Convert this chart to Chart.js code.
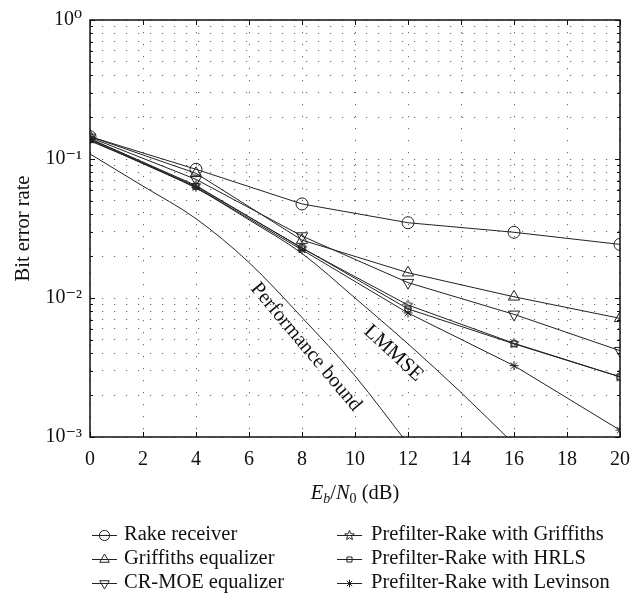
<!DOCTYPE html>
<html><head><meta charset="utf-8">
<script src="https://cdn.jsdelivr.net/npm/chart.js@4.4.1/dist/chart.umd.min.js"></script>
<style>html,body{margin:0;padding:0;background:#fff}#wrap{width:643px;height:594px;position:relative}</style>
</head><body><div id="wrap"><canvas id="c" width="643" height="594"></canvas></div>
<script>
// ---- data ----
const snrMarked = [0, 4, 8, 12, 16, 20];
const rakeReceiver      = [0.145, 0.0843, 0.0475, 0.0348, 0.0297, 0.0243];
const griffithsEqualizer = [0.145, 0.0789, 0.0261, 0.0152, 0.0102, 0.00714];
const crmoeEqualizer    = [0.143, 0.0714, 0.0279, 0.0129, 0.00763, 0.00418];
const prefilterGriffiths = [0.140, 0.0645, 0.0228, 0.0089, 0.00472, 0.00271];
const prefilterHRLS     = [0.139, 0.0635, 0.0230, 0.00835, 0.00468, 0.00271];
const prefilterLevinson = [0.137, 0.0625, 0.0222, 0.0078, 0.00326, 0.00112];
const snrLmmse = [0, 2, 4, 6, 8, 10, 12, 14, 16];
const lmmse = [0.135, 0.093, 0.0617, 0.0365, 0.0209, 0.0100, 0.00468, 0.00209, 0.00089];
const snrBound = [0, 2, 4, 6, 8, 10, 12];
const performanceBound = [0.1087, 0.0638, 0.0372, 0.0180, 0.00724, 0.00275, 0.00089];
const xTickValues = [0, 2, 4, 6, 8, 10, 12, 14, 16, 18, 20];
const yDecades = [1, 0.1, 0.01, 0.001];
const yDecadeLabels = ['10\u2070', '10\u207B\u00B9', '10\u207B\u00B2', '10\u207B\u00B3'];
const legendNames = ['Rake receiver', 'Griffiths equalizer', 'CR-MOE equalizer',
  'Prefilter-Rake with Griffiths', 'Prefilter-Rake with HRLS', 'Prefilter-Rake with Levinson'];
const curveNotes = [
  {text: 'Performance bound', x: 8.15, y: 0.00444, angle: 50},
  {text: 'LMMSE', x: 11.45, y: 0.0040, angle: 43}
];

const INK = '#222';
const FONT = '"Liberation Serif", "DejaVu Serif", serif';
const TXT = 20.5;

function makePentagram(r) {
  const s = Math.ceil(r * 2 + 3);
  const c = document.createElement('canvas'); c.width = s; c.height = s;
  const g = c.getContext('2d'); g.strokeStyle = INK; g.lineWidth = 1;
  g.beginPath();
  for (let i = 0; i < 10; i++) {
    const rr = i % 2 ? r * 0.45 : r;
    const a = -Math.PI / 2 + i * Math.PI / 5;
    const px = s / 2 + rr * Math.cos(a), py = s / 2 + rr * Math.sin(a);
    if (i) g.lineTo(px, py); else g.moveTo(px, py);
  }
  g.closePath(); g.stroke();
  return c;
}
const starImg = makePentagram(5);

function pts(xs, ys) { return xs.map((x, i) => ({x: x, y: ys[i]})); }

function marked(label, ys, style, radius, rotation) {
  return {
    label: label, data: pts(snrMarked, ys),
    borderColor: INK, borderWidth: 1, backgroundColor: 'rgba(0,0,0,0)',
    pointStyle: style, pointRadius: radius, pointRotation: rotation || 0,
    pointBorderColor: INK, pointBackgroundColor: 'rgba(0,0,0,0)', pointBorderWidth: 1,
    tension: 0
  };
}
function curve(label, xs, ys) {
  return {
    label: label, data: pts(xs, ys), borderColor: INK, borderWidth: 1,
    pointRadius: 0, cubicInterpolationMode: 'monotone', fill: false
  };
}

const datasets = [
  curve('Performance bound', snrBound, performanceBound),
  curve('LMMSE', snrLmmse, lmmse),
  marked(legendNames[0], rakeReceiver, 'circle', 6),
  marked(legendNames[1], griffithsEqualizer, 'triangle', 6.5),
  marked(legendNames[2], crmoeEqualizer, 'triangle', 6.5, 180),
  marked(legendNames[3], prefilterGriffiths, starImg, 5),
  marked(legendNames[4], prefilterHRLS, 'rect', 4.2),
  marked(legendNames[5], prefilterLevinson, 'star', 4.5)
];

function isDecade(v) { const e = Math.log10(v); return Math.abs(e - Math.round(e)) < 1e-9; }

const framePlugin = {
  id: 'frame',
  afterDraw(chart) {
    const {ctx, chartArea: a, scales} = chart;
    ctx.save();
    ctx.strokeStyle = '#111'; ctx.lineWidth = 1;
    // inward ticks
    ctx.beginPath();
    scales.x.ticks.forEach(t => {
      const px = Math.round(scales.x.getPixelForValue(t.value)) + 0.5;
      ctx.moveTo(px, a.bottom); ctx.lineTo(px, a.bottom - 5);
      ctx.moveTo(px, a.top); ctx.lineTo(px, a.top + 5);
    });
    scales.y.ticks.forEach(t => {
      const py = Math.round(scales.y.getPixelForValue(t.value)) + 0.5;
      const len = isDecade(t.value) ? 5 : 3;
      ctx.moveTo(a.left, py); ctx.lineTo(a.left + len, py);
      ctx.moveTo(a.right, py); ctx.lineTo(a.right - len, py);
    });
    ctx.stroke();
    ctx.lineWidth = 1.5;
    ctx.strokeRect(a.left, a.top, a.right - a.left, a.bottom - a.top);

    // x-axis title with italic/subscript parts
    const parts = [
      {t: 'E', f: 'italic ' + TXT + 'px ' + FONT, dy: 0},
      {t: 'b', f: 'italic 14px ' + FONT, dy: 4},
      {t: '/', f: TXT + 'px ' + FONT, dy: 0},
      {t: 'N', f: 'italic ' + TXT + 'px ' + FONT, dy: 0},
      {t: '0', f: '14px ' + FONT, dy: 4},
      {t: ' (dB)', f: TXT + 'px ' + FONT, dy: 0}
    ];
    let w = 0;
    parts.forEach(p => { ctx.font = p.f; p.w = ctx.measureText(p.t).width; w += p.w; });
    let x = (a.left + a.right) / 2 - w / 2;
    const base = 499;
    ctx.fillStyle = '#111'; ctx.textBaseline = 'alphabetic'; ctx.textAlign = 'left';
    parts.forEach(p => { ctx.font = p.f; ctx.fillText(p.t, x, base + p.dy); x += p.w; });

    // legend
    const cols = [{lx: 92, tx: 124}, {lx: 337, tx: 371}];
    const rows = [535, 559, 583];
    for (let i = 0; i < 6; i++) {
      const col = cols[Math.floor(i / 3)], y = rows[i % 3];
      const ds = chart.data.datasets[i + 2];
      ctx.strokeStyle = INK; ctx.lineWidth = 1;
      ctx.beginPath(); ctx.moveTo(col.lx, y + 0.5); ctx.lineTo(col.lx + 25, y + 0.5); ctx.stroke();
      ctx.fillStyle = 'rgba(0,0,0,0)';
      Chart.helpers.drawPoint(ctx, {
        pointStyle: ds.pointStyle, rotation: ds.pointRotation || 0,
        radius: ds.pointRadius * 0.85, borderWidth: 1
      }, col.lx + 12.5, y + 0.5);
      ctx.fillStyle = '#111';
      ctx.font = TXT + 'px ' + FONT; ctx.textBaseline = 'middle'; ctx.textAlign = 'left';
      ctx.fillText(ds.label, col.tx, y);
    }

    // curve annotations
    ctx.font = TXT + 'px ' + FONT; ctx.textAlign = 'center'; ctx.textBaseline = 'middle';
    ctx.fillStyle = '#111';
    curveNotes.forEach(n => {
      const px = scales.x.getPixelForValue(n.x), py = scales.y.getPixelForValue(n.y);
      ctx.save(); ctx.translate(px, py); ctx.rotate(n.angle * Math.PI / 180);
      ctx.fillText(n.text, 0, 0); ctx.restore();
    });
    ctx.restore();
  }
};

new Chart(document.getElementById('c'), {
  type: 'line',
  data: {datasets: datasets},
  options: {
    responsive: false, animation: false, devicePixelRatio: 1, events: [],
    layout: {padding: {left: 0, right: 23, top: 20, bottom: 0}},
    plugins: {legend: {display: false}, tooltip: {enabled: false}},
    scales: {
      x: {
        type: 'linear', min: 0, max: 20,
        afterBuildTicks: s => { s.ticks = xTickValues.map(v => ({value: v})); },
        afterFit: s => { s.height = 157; },
        ticks: {autoSkip: false, maxRotation: 0, padding: 11, color: '#111', font: {family: FONT, size: 20}},
        grid: {color: '#666', lineWidth: 1, drawTicks: false},
        border: {display: false, dash: [1.2, 10.8]}
      },
      y: {
        type: 'logarithmic', min: 0.001, max: 1,
        afterBuildTicks: s => {
          const t = [];
          for (let k = -3; k <= 0; k++) {
            for (let m = 1; m <= 9; m++) { const v = m * Math.pow(10, k); if (v <= 1.0000001) t.push({value: k === 0 ? 1 : Number(v.toPrecision(3))}); }
          }
          s.ticks = t;
        },
        afterFit: s => { s.width = 90; },
        ticks: {
          autoSkip: false, padding: 8, color: '#111', font: {family: FONT, size: 20},
          callback: v => { const i = yDecades.findIndex(d => Math.abs(d - v) / d < 1e-6); return i >= 0 ? yDecadeLabels[i] : ''; }
        },
        grid: {color: '#666', lineWidth: 1, drawTicks: false},
        border: {display: false, dash: [1.2, 10.8]},
        title: {display: true, text: 'Bit error rate', color: '#111', font: {family: FONT, size: TXT}, padding: {top: 11, bottom: 0}}
      }
    }
  },
  plugins: [framePlugin]
});
</script></body></html>
